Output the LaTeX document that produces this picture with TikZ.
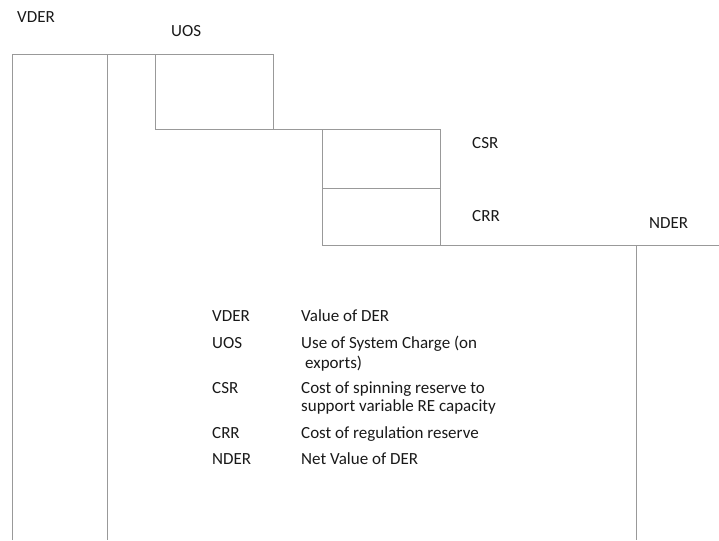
\documentclass[tikz,border=0pt]{standalone}
\usepackage{fontspec}
\setmainfont{Carlito}
\begin{document}
\begin{tikzpicture}[x=1pt,y=-1pt,
  ln/.style={draw=black!40, line width=1pt},
  lbl/.style={anchor=base west, inner sep=0pt, text=black!90, font=\fontsize{17}{19}\selectfont}]
\useasboundingbox (0,0) rectangle (719,540);
% structure
\draw[ln] (12,540) -- (12,55) -- (273,55) -- (273,130);
\draw[ln] (107,55) -- (107,540);
\draw[ln] (155,55) -- (155,130) -- (440,130) -- (440,245);
\draw[ln] (322,130) -- (322,245) -- (719,245);
\draw[ln] (322,188) -- (440,188);
\draw[ln] (636,245) -- (636,540);
% labels
\node[lbl] (vder) at (17,23) {VDER};
\node[lbl] (uos) at (171,37) {UOS};
\node[lbl] (csr) at (472,149) {CSR};
\node[lbl] (crr) at (472,221) {CRR};
\node[lbl] (nder) at (649,228) {NDER};
% legend
\node[lbl] (k1) at (212,321) {VDER};
\node[lbl] (d1) at (301,321) {Value of DER};
\node[lbl] (k2) at (212,348) {UOS};
\node[lbl] (d2) at (301,348) {Use of System Charge (on};
\node[lbl] (d2b) at (305,368) {exports)};
\node[lbl] (k3) at (212,393) {CSR};
\node[lbl] (d3) at (301,393) {Cost of spinning reserve to};
\node[lbl] (d3b) at (301,411) {support variable RE capacity};
\node[lbl] (k4) at (212,438) {CRR};
\node[lbl] (d4) at (301,438) {Cost of regulation reserve};
\node[lbl] (k5) at (212,464) {NDER};
\node[lbl] (d5) at (301,464) {Net Value of DER};
\end{tikzpicture}
\end{document}
